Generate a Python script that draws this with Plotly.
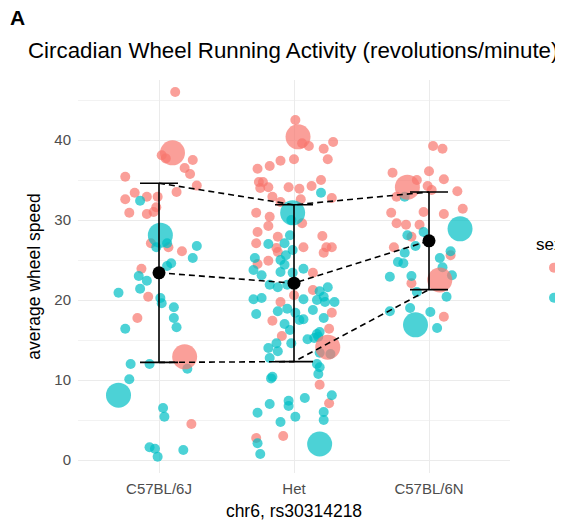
import plotly.graph_objects as go

categories = ["C57BL/6J", "Het", "C57BL/6N"]
sex_labels = ["F", "M"]
pink = "#F8766D"
teal = "#00BFC4"

# ---- C57BL/6J ----
f6j_dx = [0.12, 0.02, 0.05, 0.25, 0.19, 0.23, -0.25, 0.28, 0.13, -0.18, -0.09, -0.01, -0.25, -0.02,
          -0.04, -0.22, -0.09, -0.06, 0.07, 0.17, -0.13, -0.08, -0.16, 0.24]
f6j_y = [46.0, 38.1, 37.7, 37.5, 36.5, 35.75, 35.4, 34.3, 33.5, 33.4, 32.9, 32.9, 32.6, 31.6,
         31.0, 30.9, 30.75, 27.1, 26.6, 26.1, 23.9, 20.4, 17.75, 4.5]
m6j_dx = [-0.14, -0.02, 0.06, 0.28, 0.25, 0.09, 0.06, -0.15, -0.09, -0.30, -0.14, 0.01, 0.02, 0.11,
          0.11, 0.13, -0.25, -0.21, -0.07, 0.21, -0.22, 0.03, 0.04, -0.07, -0.03, 0.18, -0.01]
m6j_y = [32.4, 26.6, 27.1, 26.75, 25.25, 24.6, 24.25, 23.0, 22.4, 20.9, 21.4, 20.25, 19.6, 19.1,
         17.75, 16.6, 16.4, 12.0, 12.0, 11.4, 10.1, 6.5, 5.4, 1.6, 1.4, 1.25, 0.4]

# ---- Het ----
fhet_dx = [0.01, 0.06, 0.11, 0.29, 0.22, 0.25, 0.0, -0.10, -0.18, -0.27, -0.26, -0.23, -0.25, -0.19,
           -0.04, 0.04, 0.13, 0.20, -0.16, 0.05, 0.28, -0.10, -0.28, -0.18, -0.19, 0.06, -0.27, -0.12,
           0.21, -0.28, -0.13, 0.07, 0.24, 0.28, 0.22, -0.12, -0.19, -0.27, 0.14, 0.14, 0.0, -0.10,
           0.28, -0.16, 0.26, -0.09, 0.19, 0.26, -0.08, -0.28]
fhet_y = [42.5, 39.6, 39.25, 39.75, 38.9, 37.6, 37.6, 37.4, 36.75, 36.4, 34.75, 34.75, 34.0, 34.1,
          34.1, 33.9, 34.25, 35.0, 32.9, 32.6, 32.75, 32.25, 30.9, 30.4, 29.25, 29.6, 28.5, 27.9,
          28.0, 27.1, 26.5, 26.6, 26.6, 26.6, 25.9, 26.0, 24.9, 24.5, 23.4, 21.25, 20.6, 19.75,
          18.4, 17.4, 16.4, 15.5, 9.4, 7.1, 3.0, 2.75]
mhet_dx = [0.20, -0.02, -0.03, -0.07, -0.19, -0.01, -0.06, -0.29, -0.10, -0.07, -0.30, -0.10, 0.07,
           -0.24, -0.01, -0.18, -0.12, -0.05, 0.19, 0.25, 0.22, -0.30, -0.24, 0.07, 0.17, 0.23, 0.30,
           -0.12, -0.05, 0.01, -0.28, 0.14, 0.04, 0.07, 0.22, -0.07, -0.03, 0.19, 0.17, 0.10, 0.15,
           0.18, 0.27, 0.19, -0.13, -0.19, -0.12, -0.02, -0.18, 0.17, 0.19, 0.18, -0.16, -0.17, 0.28,
           0.08, -0.04, -0.04, -0.18, 0.22, -0.27, 0.01, 0.22, -0.10, -0.27, -0.25]
mhet_y = [33.4, 30.0, 28.1, 27.1, 27.0, 26.25, 25.6, 25.25, 25.0, 24.4, 23.75, 23.5, 23.9,
          23.1, 23.4, 21.9, 21.6, 21.9, 21.1, 21.6, 20.4, 20.1, 20.25, 20.1, 20.0, 19.75, 19.75,
          18.6, 18.9, 18.4, 18.25, 18.75, 17.5, 17.6, 17.75, 17.0, 16.25, 16.0, 15.75, 15.1, 15.25,
          15.4, 13.25, 13.4, 14.6, 14.0, 13.6, 14.6, 12.75, 12.0, 11.6, 10.75, 10.4, 10.2, 8.1,
          7.75, 7.4, 6.75, 7.0, 6.0, 5.9, 5.4, 5.0, 4.75, 2.1, 0.75]

# ---- C57BL/6N ----
f6n_dx = [0.03, 0.10, -0.27, 0.0, -0.09, 0.11, -0.01, 0.02, 0.21, -0.24, 0.25, -0.28, -0.04, 0.11,
          -0.24, -0.17, -0.07, -0.13, -0.26, 0.16, -0.13, 0.11]
f6n_y = [39.25, 38.9, 35.9, 36.1, 35.0, 35.1, 34.25, 33.75, 33.6, 32.9, 31.4, 30.9, 31.0, 30.75,
         29.6, 29.4, 29.4, 27.9, 26.6, 25.6, 22.1, 17.9]
m6n_dx = [-0.18, -0.04, -0.16, -0.10, -0.18, 0.16, 0.08, -0.23, -0.19, 0.10, -0.29, -0.13, 0.17,
          -0.09, 0.13, -0.29, -0.14, 0.01, 0.06]
m6n_y = [32.9, 28.5, 28.1, 26.75, 25.9, 26.1, 25.25, 24.75, 24.6, 24.1, 22.9, 23.0, 23.1,
         21.0, 20.4, 18.6, 19.0, 18.5, 16.5]

# ---- large highlighted points ----
big_f_dx = [0.10, 0.19, 0.03, 0.25, -0.16, 0.08]
big_f_y = [38.4, 12.9, 40.4, 14.1, 34.1, 22.5]
big_f_cat = [0, 0, 1, 1, 2, 2]
big_m_dx = [0.01, -0.30, -0.01, 0.19, 0.23, -0.10]
big_m_y = [28.1, 8.1, 30.9, 2.0, 28.9, 16.9]
big_m_cat = [0, 0, 1, 1, 2, 2]

# ---- summary: mean +/- sd ----
means = [23.4, 22.1, 27.4]
sds = [11.2, 9.8, 6.1]

female_groups = [(f6j_dx, f6j_y), (fhet_dx, fhet_y), (f6n_dx, f6n_y)]
male_groups = [(m6j_dx, m6j_y), (mhet_dx, mhet_y), (m6n_dx, m6n_y)]


def flatten(groups):
    xs, ys = [], []
    for i, (dx, yy) in enumerate(groups):
        xs += [i + d for d in dx]
        ys += yy
    return xs, ys


fx, fy = flatten(female_groups)
mx, my = flatten(male_groups)

fig = go.Figure()
for name, xs, ys, col in [(sex_labels[0], fx, fy, pink), (sex_labels[1], mx, my, teal)]:
    fig.add_trace(go.Scatter(x=xs, y=ys, mode="markers", name=name, legendgroup=name,
                             marker=dict(color=col, size=10, opacity=0.7, line=dict(width=0)),
                             hoverinfo="skip"))
for name, dx, yy, cat, col in [(sex_labels[0], big_f_dx, big_f_y, big_f_cat, pink),
                               (sex_labels[1], big_m_dx, big_m_y, big_m_cat, teal)]:
    fig.add_trace(go.Scatter(x=[c + d for c, d in zip(cat, dx)], y=yy, mode="markers",
                             legendgroup=name, showlegend=False,
                             marker=dict(color=col, size=25, opacity=0.7, line=dict(width=0)),
                             hoverinfo="skip"))

cat_x = list(range(len(categories)))
upper = [m + s for m, s in zip(means, sds)]
lower = [m - s for m, s in zip(means, sds)]
for yy in (upper, means, lower):
    fig.add_trace(go.Scatter(x=cat_x, y=yy, mode="lines", showlegend=False,
                             line=dict(color="black", width=1.6, dash="6px,4px"), hoverinfo="skip"))
fig.add_trace(go.Scatter(x=cat_x, y=means, mode="markers", showlegend=False,
                         marker=dict(color="black", size=13),
                         error_y=dict(type="data", array=sds, color="black", thickness=1.6, width=19),
                         hoverinfo="skip"))

font_family = "Liberation Sans, Arial, Helvetica, sans-serif"
grid_col = "#EBEBEB"

# page body adds 8px offset; figure is laid out so the plot sits where the reference has it
W, H = 620, 526
ML, MT, PW, PH = 70, 72, 432, 393

fig.update_layout(
    width=W, height=H,
    margin=dict(l=ML, r=W - ML - PW, t=MT, b=H - MT - PH, pad=0),
    plot_bgcolor="white", paper_bgcolor="white",
    font=dict(family=font_family, color="black"),
    title=dict(text="Circadian Wheel Running Activity (revolutions/minute)",
               xref="container", x=20 / W, xanchor="left",
               yref="container", y=1 - 42 / H, yanchor="middle",
               pad=dict(l=0, r=0, t=0, b=0),
               font=dict(size=22.3, color="black")),
    xaxis=dict(range=[-0.6, 2.6], tickvals=cat_x, ticktext=categories,
               showgrid=True, gridcolor=grid_col, gridwidth=1.1, zeroline=False,
               showline=False, ticks="", ticklabelstandoff=5,
               tickfont=dict(size=15, color="#4D4D4D"),
               title=dict(text="chr6, rs30314218", font=dict(size=17.5, color="black"), standoff=8)),
    yaxis=dict(range=[-1.625, 47.5], tickvals=[0, 10, 20, 30, 40],
               showgrid=True, gridcolor=grid_col, gridwidth=1.1, zeroline=False,
               showline=False, ticks="", ticklabelstandoff=6,
               tickfont=dict(size=15, color="#4D4D4D"),
               minor=dict(dtick=5, tick0=0, showgrid=True, gridcolor="#F2F2F2", gridwidth=0.6),
               title=dict(text="average wheel speed", font=dict(size=17.5, color="black"), standoff=9)),
    legend=dict(x=(526 - ML) / PW, xanchor="left", y=1 - (220 - MT) / PH, yanchor="top",
                title=dict(text="sex", font=dict(size=17)), font=dict(size=17),
                bgcolor="rgba(0,0,0,0)", itemsizing="trace", tracegroupgap=5),
    annotations=[dict(text="<b>A</b>", xref="paper", yref="paper", x=-ML / PW, y=1 + (MT - 9) / PH,
                      xanchor="left", yanchor="middle", showarrow=False,
                      font=dict(size=21, color="black"))],
)

fig.write_html("out.html")
